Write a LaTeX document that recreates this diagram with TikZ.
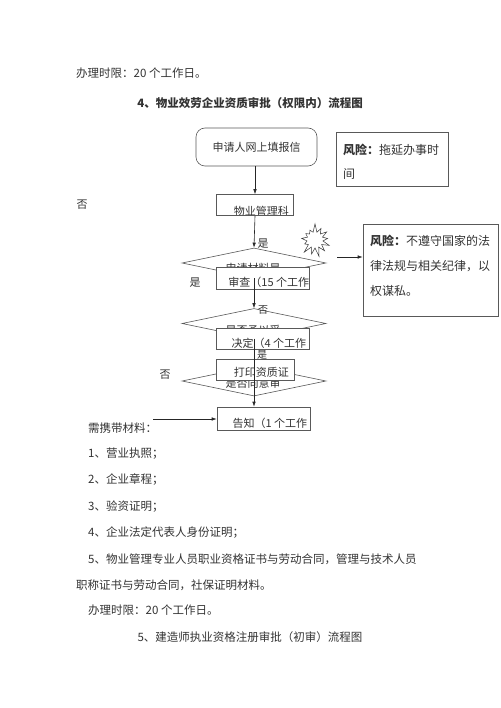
\documentclass[tikz,border=0pt]{standalone}
\usepackage{fontspec}
\setmainfont{Noto Sans CJK SC}
\usetikzlibrary{arrows.meta,shapes.geometric,shapes.symbols}
\tikzset{
  body/.style={anchor=west, inner sep=0pt, font=\fontsize{11.5pt}{13pt}\selectfont, text=black!80},
  lbl/.style={inner sep=0pt, font=\fontsize{11pt}{13pt}\selectfont, text=black!80},
  boxline/.style={draw=black!65, line width=0.6pt},
  pbox/.style={boxline, fill=white, rectangle, inner sep=0pt},
  dia/.style={boxline, diamond, aspect=4.8, inner sep=0pt, minimum width=144pt, minimum height=30pt},
  conn/.style={draw=black!85, line width=0.6pt},
  arr/.style={conn, -{Latex[length=5pt,width=3.5pt]}},
  cliptext/.style 2 args={path picture={\node[lbl, anchor=west] at ([xshift=6pt,yshift=#1]path picture bounding box.west) {#2};}}
}
\begin{document}
\begin{tikzpicture}[x=1pt,y=-1pt]
\useasboundingbox (0,0) rectangle (500,708);
\fill[white] (0,0) rectangle (500,708);

% header texts
\node[body] (t1) at (76,73) {办理时限：20 个工作日。};
\node[body, anchor=center, font=\fontsize{11.5pt}{13pt}\selectfont\bfseries] (t2) at (250,103) {4、物业效劳企业资质审批（权限内）流程图};

% rounded start box
\node[boxline, rounded corners=9pt, minimum width=121pt, minimum height=38pt, inner sep=0pt, lbl] (r1) at (256.5,147) {申请人网上填报信};

% risk box 1
\node[boxline, minimum width=112pt, minimum height=54pt, inner sep=0pt] (k1) at (392,159) {};
\node[body, font=\fontsize{12pt}{13pt}\selectfont] (k1a) at (343,150) {\textbf{风险：}拖延办事时};
\node[body, font=\fontsize{12pt}{13pt}\selectfont] (k1b) at (343,174) {间};

% box 物业管理科
\node[pbox, minimum width=77pt, minimum height=21pt, cliptext={-6pt}{物业管理科}] (b1) at (255,205) {};

% diamonds
\node[dia] (d1) at (254,263) {};
\node[lbl] (d1t) at (253,268.5) {申请材料是};
\node[dia] (d2) at (254,323.5) {};
\node[lbl] (d2t) at (253,330) {是否予以受};
\node[dia] (d3) at (254,381) {};
\node[lbl] (d3t) at (253,383) {是否同意审};

% boxes over diamonds
\node[pbox, minimum width=93pt, minimum height=22pt, cliptext={-4.5pt}{审查（15 个工作}] (ba) at (262.5,278) {};
\node[pbox, minimum width=93pt, minimum height=21pt, cliptext={-4.5pt}{决定（4 个工作}] (bb) at (262.5,338.5) {};
\node[pbox, minimum width=78pt, minimum height=21pt, cliptext={-2.5pt}{打印资质证}] (bc) at (255,369.5) {};
\node[pbox, minimum width=93pt, minimum height=23pt, cliptext={-4.5pt}{告知（1 个工作}] (bd) at (263.5,418.5) {};

% starburst and risk box 2
\node[starburst, draw=black!80, line width=0.5pt, starburst points=13, starburst point height=9pt, minimum width=34pt, minimum height=34pt, inner sep=0pt, random starburst=7] (sb) at (315,240) {};
\node[boxline, minimum width=135pt, minimum height=92pt, inner sep=0pt] (k2) at (430.5,270) {};
\node[body, font=\fontsize{12pt}{13pt}\selectfont] (k2a) at (370,241) {\textbf{风险：}不遵守国家的法};
\node[body, font=\fontsize{12pt}{13pt}\selectfont] (k2b) at (370,266) {律法规与相关纪律，以};
\node[body, font=\fontsize{12pt}{13pt}\selectfont] (k2c) at (370,291) {权谋私。};

% connectors
\draw[arr] (r1.south -| b1.north) -- (b1.north);
\draw[arr] (b1.south) -- (d1.north);
\draw[arr] (d1.north |- ba.center) -- (d2.north);
\draw[arr] (d2.north |- bb.center) -- (d3.north |- bd.north);
\coordinate (sbe) at (337,257);
\draw[arr] (sbe) -- (sbe -| k2.west);
\coordinate (mat) at (153,419);
\draw[arr] (mat) -- (mat -| bd.west);

% branch labels
\node[lbl] (y1) at (263,244) {是};
\node[lbl] (y2) at (195,283) {是};
\node[lbl, font=\fontsize{10pt}{12pt}\selectfont] (n1) at (263,310) {否};
\node[lbl, font=\fontsize{10pt}{12pt}\selectfont] (y3) at (262,355) {是};
\node[lbl] (n2) at (82,205) {否};
\node[lbl] (n3) at (165,375) {否};

% materials list
\node[body] (m0) at (88,428) {需携带材料：};
\node[body] (m1) at (88,454) {1、营业执照；};
\node[body] (m2) at (88,480) {2、企业章程；};
\node[body] (m3) at (88,507) {3、验资证明；};
\node[body] (m4) at (88,533) {4、企业法定代表人身份证明；};
\node[body] (m5) at (88,559) {5、物业管理专业人员职业资格证书与劳动合同，管理与技术人员};
\node[body] (m6) at (76,585) {职称证书与劳动合同，社保证明材料。};
\node[body] (m7) at (88,610) {办理时限：20 个工作日。};
\node[body, anchor=center] (m8) at (250,637) {5、建造师执业资格注册审批（初审）流程图};
\end{tikzpicture}
\end{document}
